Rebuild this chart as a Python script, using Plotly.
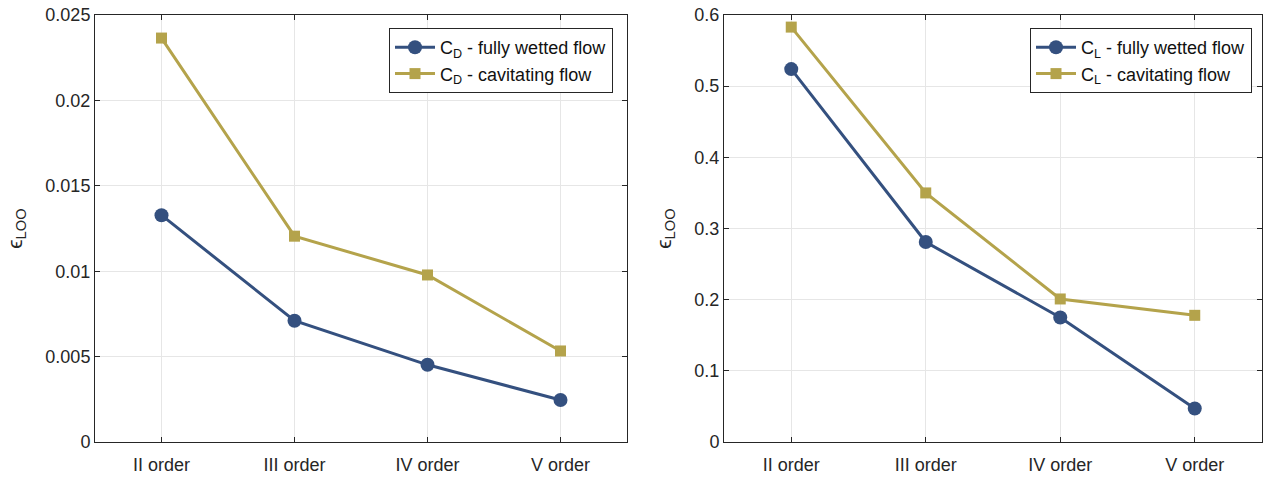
import plotly.graph_objects as go
from plotly.subplots import make_subplots

categories = ["II order", "III order", "IV order", "V order"]
cd_wetted = [0.01328, 0.00710, 0.00452, 0.00246]
cd_cavit = [0.02365, 0.01205, 0.00978, 0.00533]
cl_wetted = [0.524, 0.281, 0.175, 0.047]
cl_cavit = [0.583, 0.350, 0.201, 0.178]

BLUE = "#34507f"
GOLD = "#b4a34b"
FONT = "Liberation Sans, Arial, sans-serif"

fig = make_subplots(rows=1, cols=2)

xpos = [1, 2, 3, 4]

def add(series, name, color, symbol, size, col, legend):
    fig.add_trace(go.Scatter(
        x=xpos, y=series, mode="lines+markers", name=name,
        line=dict(color=color, width=3),
        marker=dict(symbol=symbol, size=size, color=color),
        legend=legend, showlegend=True), row=1, col=col)

add(cd_wetted, "C<sub>D</sub> - fully wetted flow", BLUE, "circle", 14, 1, "legend")
add(cd_cavit, "C<sub>D</sub> - cavitating flow", GOLD, "square", 11, 1, "legend")
add(cl_wetted, "C<sub>L</sub> - fully wetted flow", BLUE, "circle", 14, 2, "legend2")
add(cl_cavit, "C<sub>L</sub> - cavitating flow", GOLD, "square", 11, 2, "legend2")

axis_common = dict(showline=True, linecolor="#262626", linewidth=1, mirror="ticks",
                   ticks="inside", ticklen=5, tickcolor="#262626", automargin=False,
                   showgrid=True, gridcolor="#e6e6e6", gridwidth=1, zeroline=False,
                   tickfont=dict(family=FONT, size=18, color="#262626"))

title_font = dict(family=FONT, size=21, color="#262626")
ydom = [37 / 479, 464 / 479]
fig.update_layout(
    width=1264, height=479, margin=dict(l=0, r=0, t=0, b=0, autoexpand=False),
    paper_bgcolor="white", plot_bgcolor="white",
    font=dict(family=FONT, color="#262626"),
    xaxis=dict(domain=[95 / 1264, 627 / 1264], range=[0.5, 4.5], tickvals=xpos,
               ticktext=categories, ticklabelstandoff=6, **axis_common),
    xaxis2=dict(domain=[724 / 1264, 1262 / 1264], range=[0.5, 4.5], tickvals=xpos,
                ticktext=categories, ticklabelstandoff=6, **axis_common),
    yaxis=dict(domain=ydom, range=[0, 0.025], tickvals=[0, 0.005, 0.01, 0.015, 0.02, 0.025],
               ticktext=["0", "0.005", "0.01", "0.015", "0.02", "0.025"],
               title=dict(text="ϵ<sub>LOO</sub>", font=title_font, standoff=17),
               **axis_common),
    yaxis2=dict(domain=ydom, range=[0, 0.6], tickvals=[0, 0.1, 0.2, 0.3, 0.4, 0.5, 0.6],
                ticktext=["0", "0.1", "0.2", "0.3", "0.4", "0.5", "0.6"],
                title=dict(text="ϵ<sub>LOO</sub>", font=title_font, standoff=17),
                **axis_common),
    legend=dict(x=613 / 1264, y=(479 - 28) / 479, xanchor="right", yanchor="top",
                bgcolor="white", bordercolor="#262626", borderwidth=1, itemwidth=40,
                font=dict(family=FONT, size=18, color="#111111"), tracegroupgap=0),
    legend2=dict(x=1252 / 1264, y=(479 - 28) / 479, xanchor="right", yanchor="top",
                 bgcolor="white", bordercolor="#262626", borderwidth=1, itemwidth=40,
                 font=dict(family=FONT, size=18, color="#111111"), tracegroupgap=0),
)

fig.write_html("out.html")
